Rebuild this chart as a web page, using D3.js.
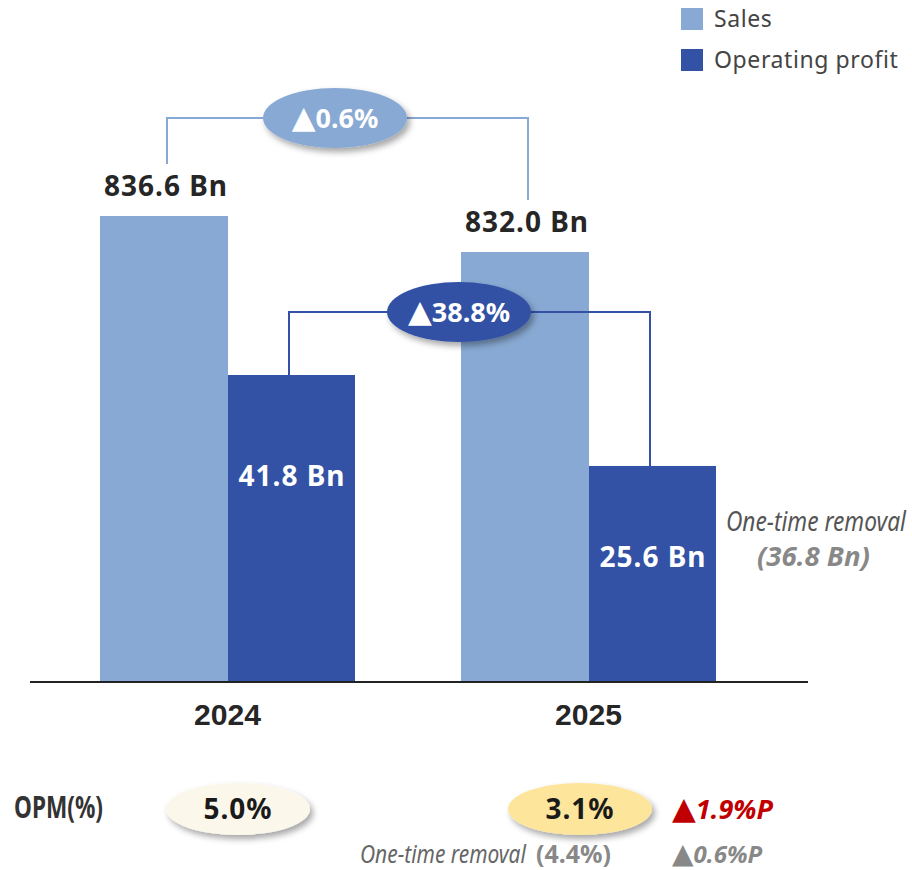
<!DOCTYPE html>
<html>
<head>
<meta charset="utf-8">
<script src="https://cdn.jsdelivr.net/npm/d3@7"></script>
<style>
  body { margin: 0; background: #fff; }
  svg { display: block; }
</style>
</head>
<body>
<script>
'use strict';

const years = ['2024', '2025'];
const seriesNames = ['Sales', 'Operating profit'];
const sales = [836.6, 832.0];
const opProfit = [41.8, 25.6];
const opm = [5.0, 3.1];
const salesChange = '0.6%';
const profitChange = '38.8%';
const oneTimeRemoval = 36.8;
const opmAdjusted = 4.4;
const opmDiff = '1.9%P';
const opmAdjDiff = '0.6%P';

const width = 912;
const height = 870;
const baseY = 681;
const colors = { 'Sales': '#88a9d3', 'Operating profit': '#3351a5' };
const numFont = '"Noto Sans", "Open Sans", sans-serif';
const triFont = '"DejaVu Sans", sans-serif';

const svg = d3.select('body').append('svg')
  .attr('width', width)
  .attr('height', height);

const defs = svg.append('defs');
const shadow = defs.append('filter').attr('id', 'shadow')
  .attr('x', '-20%').attr('y', '-30%').attr('width', '150%').attr('height', '180%');
shadow.append('feDropShadow')
  .attr('dx', 3).attr('dy', 4).attr('stdDeviation', 3)
  .attr('flood-color', '#000').attr('flood-opacity', 0.35);

// scales: the original chart is not drawn to zero, so each series gets its own range
const x = d3.scalePoint().domain(years).range([228, 589]);
const inner = d3.scaleBand().domain(seriesNames).range([-128, 128]);
const ySales = d3.scaleLinear().domain([777.2, 836.6]).range([baseY, 216]);
const yProfit = d3.scaleLinear().domain([-12.7, 41.8]).range([baseY, 375]);

const rows = years.map(function(y, i) {
  return { year: y, i: i, sales: sales[i], profit: opProfit[i] };
});

function barX(d, s) { return x(d.year) + inner(s); }
function barCx(d, s) { return barX(d, s) + inner.bandwidth() / 2; }

// condensed text: squeeze a normal face horizontally to a given width
function narrowText(g, xPos, yPos, w, txt, styles, fill) {
  const t = g.append('text').attr('x', 0).attr('y', 0).attr('fill', fill);
  for (const k in styles) t.style(k, styles[k]);
  t.text(txt);
  const n = t.node().getComputedTextLength();
  t.attr('transform', 'translate(' + xPos + ',' + yPos + ') scale(' + (w / n) + ',1)');
  return t;
}

// bars
svg.append('g').selectAll('rect')
  .data(rows)
  .enter().append('rect')
  .attr('x', function(d) { return barX(d, 'Sales'); })
  .attr('y', function(d) { return ySales(d.sales); })
  .attr('width', inner.bandwidth())
  .attr('height', function(d) { return baseY - ySales(d.sales); })
  .attr('fill', colors['Sales']);

svg.append('g').selectAll('rect')
  .data(rows)
  .enter().append('rect')
  .attr('x', function(d) { return barX(d, 'Operating profit'); })
  .attr('y', function(d) { return yProfit(d.profit); })
  .attr('width', inner.bandwidth() - 1)
  .attr('height', function(d) { return baseY - yProfit(d.profit); })
  .attr('fill', colors['Operating profit']);

// axis baseline
svg.append('line')
  .attr('x1', 30).attr('x2', 808)
  .attr('y1', baseY + 1).attr('y2', baseY + 1)
  .attr('stroke', '#222').attr('stroke-width', 2);

// year labels
years.forEach(function(d) {
  narrowText(svg, x(d) - 34, 725, 67, d, {
    'font-family': '"Liberation Sans", Arial, sans-serif',
    'font-weight': 'bold',
    'font-size': '30px'
  }, '#262626');
});

// sales labels above bars
svg.append('g').selectAll('text')
  .data(rows)
  .enter().append('text')
  .attr('x', function(d) { return barCx(d, 'Sales') + 2; })
  .attr('y', function(d) { return ySales(d.sales) - 20; })
  .attr('text-anchor', 'middle')
  .style('font-family', numFont)
  .style('font-weight', 'bold')
  .style('font-size', '28px')
  .style('letter-spacing', '1px')
  .attr('fill', '#262626')
  .text(function(d) { return d.sales.toFixed(1) + ' Bn'; });

// profit labels inside bars
svg.append('g').selectAll('text')
  .data(rows)
  .enter().append('text')
  .attr('x', function(d) { return barCx(d, 'Operating profit'); })
  .attr('y', function(d, i) { return yProfit(d.profit) + (i ? 101 : 111); })
  .attr('text-anchor', 'middle')
  .style('font-family', numFont)
  .style('font-weight', 'bold')
  .style('font-size', '28px')
  .style('letter-spacing', '1px')
  .attr('fill', '#fff')
  .text(function(d) { return d.profit.toFixed(1) + ' Bn'; });

// change brackets
function bracket(yTop, x1, y1, x2, y2, color, label, cx) {
  svg.append('path')
    .attr('d', 'M' + x1 + ',' + y1 + 'V' + yTop + 'H' + x2 + 'V' + y2)
    .attr('fill', 'none')
    .attr('stroke', color)
    .attr('stroke-width', 2);
  svg.append('ellipse')
    .attr('cx', cx).attr('cy', yTop)
    .attr('rx', 72).attr('ry', 30)
    .attr('fill', color)
    .attr('filter', 'url(#shadow)');
  const t = svg.append('text')
    .attr('x', cx).attr('y', yTop + 10)
    .attr('text-anchor', 'middle')
    .style('font-family', numFont)
    .style('font-weight', 'bold')
    .style('font-size', '27px')
    .attr('fill', '#fff');
  t.append('tspan').style('font-family', triFont).style('font-size', '31px').text('▲');
  t.append('tspan').text(label);
}

bracket(118,
  barCx(rows[0], 'Sales') + 3, ySales(sales[0]) - 52,
  barCx(rows[1], 'Sales') + 3, ySales(sales[1]) - 52,
  colors['Sales'], salesChange, 335);

bracket(312,
  barCx(rows[0], 'Operating profit') - 3, yProfit(opProfit[0]),
  barCx(rows[1], 'Operating profit') - 3, yProfit(opProfit[1]),
  colors['Operating profit'], profitChange, 459);

// one-time removal note
narrowText(svg, 726, 531, 180, 'One-time removal', {
  'font-family': numFont, 'font-style': 'italic', 'font-size': '27px'
}, '#555');
narrowText(svg, 757, 566, 113, '(' + oneTimeRemoval.toFixed(1) + ' Bn)', {
  'font-family': numFont, 'font-style': 'italic', 'font-weight': 'bold', 'font-size': '26px'
}, '#888');

// legend
const legend = svg.append('g').selectAll('g')
  .data(seriesNames)
  .enter().append('g')
  .attr('transform', function(d, i) { return 'translate(681,' + (8 + i * 41) + ')'; });
legend.append('rect')
  .attr('width', 22).attr('height', 22)
  .attr('fill', function(d) { return colors[d]; });
legend.append('text')
  .attr('x', 33).attr('y', 19)
  .style('font-family', '"Noto Sans", sans-serif')
  .style('font-size', '23px')
  .style('letter-spacing', '0.6px')
  .attr('fill', '#444')
  .text(function(d) { return d; });

// OPM row
narrowText(svg, 14, 818, 89, 'OPM(%)', {
  'font-family': numFont, 'font-weight': 'bold', 'font-size': '31px'
}, '#333');

const opmFill = ['#fbf8eb', '#fde59b'];
const opmG = svg.append('g').selectAll('g')
  .data(opm)
  .enter().append('g')
  .attr('transform', function(d, i) { return 'translate(' + (x(years[i]) + 10 - (i ? 19 : 0)) + ',809)'; });
opmG.append('ellipse')
  .attr('rx', 72).attr('ry', 26)
  .attr('fill', function(d, i) { return opmFill[i]; })
  .attr('filter', 'url(#shadow)');
opmG.append('text')
  .attr('y', 10)
  .attr('text-anchor', 'middle')
  .style('font-family', numFont)
  .style('font-weight', 'bold')
  .style('font-size', '28px')
  .style('letter-spacing', '1px')
  .attr('fill', '#1a1a1a')
  .text(function(d) { return d.toFixed(1) + '%'; });

function deltaText(xPos, yPos, size, color, label) {
  const t = svg.append('text')
    .attr('x', xPos).attr('y', yPos)
    .style('font-family', numFont)
    .style('font-style', 'italic')
    .style('font-weight', 'bold')
    .style('font-size', size + 'px')
    .attr('fill', color);
  t.append('tspan').style('font-family', triFont).style('font-style', 'normal')
    .style('font-size', (size + 4) + 'px').text('▲');
  t.append('tspan').text(label);
}

deltaText(672, 819, 27, '#c00000', opmDiff);
deltaText(672, 863, 24, '#888', opmAdjDiff);

narrowText(svg, 360, 863, 166, 'One-time removal', {
  'font-family': numFont, 'font-style': 'italic', 'font-size': '25px'
}, '#666');
narrowText(svg, 536, 863, 75, '(' + opmAdjusted.toFixed(1) + '%)', {
  'font-family': numFont, 'font-weight': 'bold', 'font-size': '25px'
}, '#888');
</script>
</body>
</html>
